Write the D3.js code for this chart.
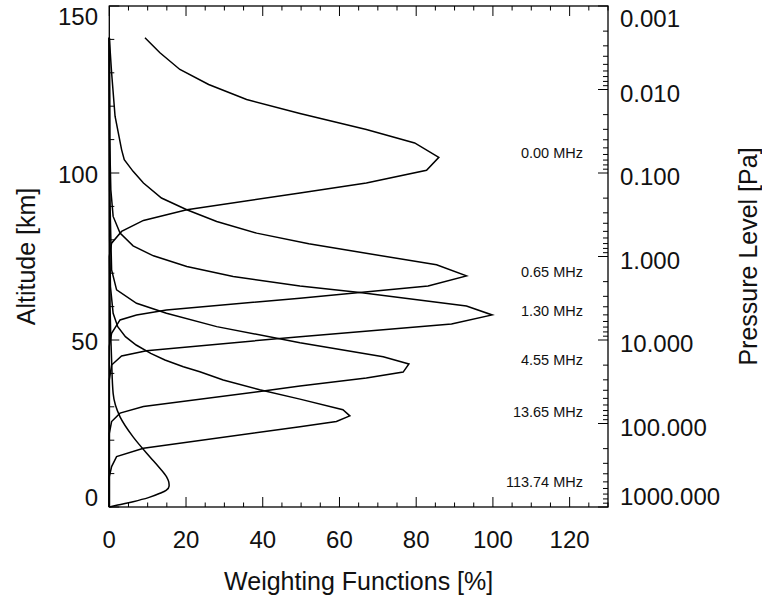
<!DOCTYPE html>
<html>
<head>
<meta charset="utf-8">
<script src="https://cdn.jsdelivr.net/npm/d3@7"></script>
<style>
  html, body { margin: 0; padding: 0; background: #fff; }
  svg { display: block; font-family: "Liberation Sans", Arial, Helvetica, sans-serif; }
</style>
</head>
<body>
<svg id="chart" width="762" height="601"></svg>
<script>
// ---- Data: [altitude km, weighting %] ----
const ch000 = [[140.5,9.3],[136,13.2],[131,18.4],[126.5,25.9],[122,35.8],[117.8,49.7],[113,67.0],[109,79.6],[104.7,85.9],[100.8,82.7],[97,67.0],[94,49.7],[89,20.2],[85.8,8.9],[82.5,3.2],[79,0.6],[75,0],[0,0]];
const ch065 = [[140.5,0],[130,0.6],[117,1.5],[107,3.2],[104,3.9],[100.5,6.2],[97,8.9],[92.5,13.6],[89,20.2],[85.5,28.0],[82,38.4],[78.8,52],[72.5,85.3],[69.2,93.1],[66.2,83.1],[64.2,65.3],[62.5,49.7],[59,14.9],[57.5,7.1],[56,2.8],[52,0.6],[48,0],[0,0]];
const ch130 = [[140.5,0],[110,0.1],[95,0.4],[87,1.0],[82,2.8],[78.2,6.2],[75.2,11.5],[72,20.2],[69,32.3],[66.2,49.7],[64.2,65.3],[60.2,93.1],[57.5,99.8],[54.8,89.2],[51,49.7],[46.8,9.7],[45.2,3.2],[42.5,0.6],[38,0],[0,0]];
const ch455 = [[140.5,0],[95,0.1],[71,0.6],[65,1.9],[61,7.1],[58,14.9],[54,28.0],[49.2,49.7],[45,71.4],[42.8,78.1],[40.4,76.6],[38.6,67.0],[36.2,49.7],[34.6,39.2],[30.1,8.9],[28.1,2.8],[25.6,0.6],[22,0],[0,0]];
const ch1365 = [[140.5,0],[80,0.1],[66,0.3],[58,1.0],[54,2.2],[51,4.2],[48.5,7.0],[46,10.8],[44,14.5],[42,19.3],[40.5,23.6],[38,29.7],[35.1,39.2],[32.3,49.7],[29.1,60.9],[27.3,62.7],[25.6,59.2],[24,49.7],[17.6,8.9],[15.1,1.9],[12.1,0.6],[9,0],[0,0]];
const ch11374 = [[140.5,0],[80,0.05],[60,0.2],[44,0.6],[34,1.0],[27,2.8],[21,6.2],[15,10.6],[12,12.9],[9.1,14.9],[7.5,15.5],[6.3,15.6],[5,14.8],[4.1,13.2],[2.8,10.2],[1.6,6.2],[0.6,2.2],[0,0]];

const channelNames = ["0.00 MHz","0.65 MHz","1.30 MHz","4.55 MHz","13.65 MHz","113.74 MHz"];
const channels = [ch000, ch065, ch130, ch455, ch1365, ch11374];

const xTicks = [0,20,40,60,80,100,120];
const yTicks = [0,50,100,150];
const pTicks = [0.001,0.01,0.1,1,10,100,1000];
const pTickLabels = ["0.001","0.010","0.100","1.000","10.000","100.000","1000.000"];

// ---- Layout ----
const svg = d3.select("#chart");
const L = 109.3, R = 608, T = 6, B = 507;
const x = d3.scaleLinear().domain([0,130]).range([L,R]);
const y = d3.scaleLinear().domain([0,150]).range([B,T]);
const p = d3.scaleLog().domain([0.001,1000]).range([T,B]);

const ink = "#000";
const g = svg.append("g");

const xMinor = d3.range(0,131,5);
const yMinor = d3.range(0,151,10);

// bottom ticks (inward)
g.selectAll(".xb").data(xMinor).enter().append("line")
  .attr("x1", d=>x(d)).attr("x2", d=>x(d))
  .attr("y1", B).attr("y2", d=> B - (d%20===0 && d<=120 ? 10 : 4.5))
  .attr("stroke", ink).attr("stroke-width", 1);
// top ticks (inward)
g.selectAll(".xt").data(xMinor).enter().append("line")
  .attr("x1", d=>x(d)).attr("x2", d=>x(d))
  .attr("y1", T).attr("y2", d=> T + (d%20===0 && d<=120 ? 10 : 4.5))
  .attr("stroke", ink).attr("stroke-width", 1);
// left ticks (inward)
g.selectAll(".yl").data(yMinor).enter().append("line")
  .attr("y1", d=>y(d)).attr("y2", d=>y(d))
  .attr("x1", L).attr("x2", d=> L + (d%50===0 ? 10 : 5))
  .attr("stroke", ink).attr("stroke-width", 1);
// right pressure ticks (inward)
const pMinor = [];
pTicks.forEach((d,i)=>{ if (i < pTicks.length-1) for (let k=2;k<=9;k++) pMinor.push(d*k); });
g.selectAll(".pmin").data(pMinor).enter().append("line")
  .attr("y1", d=>p(d)).attr("y2", d=>p(d))
  .attr("x1", R).attr("x2", R-5)
  .attr("stroke", ink).attr("stroke-width", 1);
g.selectAll(".pmaj").data(pTicks).enter().append("line")
  .attr("y1", d=>p(d)).attr("y2", d=>p(d))
  .attr("x1", R).attr("x2", R-10)
  .attr("stroke", ink).attr("stroke-width", 1);

// frame
g.append("rect").attr("x", L).attr("y", T).attr("width", R-L).attr("height", B-T)
  .attr("fill","none").attr("stroke", ink).attr("stroke-width", 1.3);

// curves
const line = d3.line().x(d=>x(d[1])).y(d=>y(d[0]));
const lineSmooth = d3.line().x(d=>x(d[1])).y(d=>y(d[0])).curve(d3.curveMonotoneY);
channels.forEach((c,i)=>{
  g.append("path").attr("d", (i===5 ? lineSmooth : line)(c))
    .attr("fill","none").attr("stroke", ink).attr("stroke-width", 1.5)
    .attr("stroke-linejoin","miter");
});

// channel labels near peak altitude
channels.forEach((c,i)=>{
  const peak = c.reduce((a,b)=> b[1]>a[1]?b:a);
  g.append("text").attr("x", 583).attr("y", y(peak[0]) - 4)
    .attr("dy", "0.35em").attr("text-anchor","end")
    .attr("font-size", 14.5).attr("fill", "#111").text(channelNames[i]);
});

// tick labels
const fs = 24;
g.selectAll(".xl").data(xTicks).enter().append("text")
  .attr("x", d=>x(d)).attr("y", 540).attr("dy","0.35em")
  .attr("text-anchor","middle").attr("font-size", fs).attr("fill", "#111").text(d=>d);
g.selectAll(".yl2").data(yTicks).enter().append("text")
  .attr("x", 98).attr("y", d=> d===150 ? 17 : d===0 ? 498 : y(d)+1.5).attr("dy","0.35em")
  .attr("text-anchor","end").attr("font-size", fs).attr("fill", "#111").text(d=>d);
g.selectAll(".pl").data(pTicks).enter().append("text")
  .attr("x", 620).attr("y", (d,i)=> i===0 ? 19 : i===pTicks.length-1 ? 497 : p(d)+4).attr("dy","0.35em")
  .attr("text-anchor","start").attr("font-size", fs).attr("fill", "#111").text((d,i)=>pTickLabels[i]);

// axis titles
g.append("text").attr("x", (L+R)/2).attr("y", 581).attr("dy","0.35em")
  .attr("text-anchor","middle").attr("font-size", 25).attr("fill", "#111").text("Weighting Functions [%]");
g.append("text").attr("transform", `translate(26,${(T+B)/2}) rotate(-90)`).attr("dy","0.35em")
  .attr("text-anchor","middle").attr("font-size", 25).attr("fill", "#111").text("Altitude [km]");
g.append("text").attr("transform", `translate(748,${(T+B)/2}) rotate(-90)`).attr("dy","0.35em")
  .attr("text-anchor","middle").attr("font-size", 25).attr("fill", "#111").text("Pressure Level [Pa]");
</script>
</body>
</html>
